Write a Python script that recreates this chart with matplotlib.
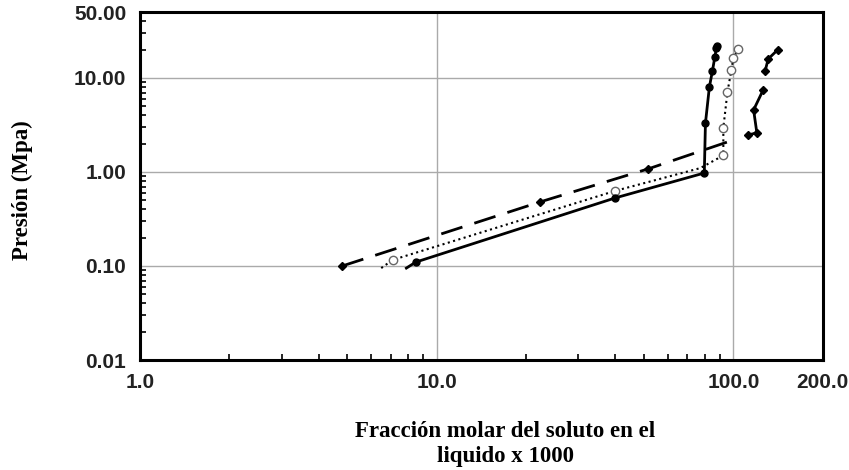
import matplotlib
matplotlib.use("Agg")
import matplotlib.pyplot as plt
import matplotlib.ticker as mticker

# serie discontinua (puntos negros)
x_dash = [4.8, 22.3, 51.7, 100.0]
y_dash = [0.10, 0.48, 1.08, 2.19]

# serie punteada (circulos abiertos)
x_dot = [6.5, 7.1, 40.0, 77.4, 92.5, 92.5, 95.5, 98.5, 100.0, 104.0]
y_dot = [0.095, 0.116, 0.63, 1.10, 1.5, 2.94, 7.1, 12.2, 16.3, 20.4]

# serie continua (puntos negros)
x_sol = [7.9, 8.5, 40.0, 79.8, 80.5, 83.0, 85.0, 86.6, 87.6, 88.0]
y_sol = [0.095, 0.11, 0.53, 0.975, 3.3, 8.0, 11.9, 16.7, 20.8, 21.9]

# cuarta serie (dos tramos)
x_s4a = [112, 120, 117, 126]
y_s4a = [2.48, 2.6, 4.57, 7.45]
x_s4b = [128, 131, 141]
y_s4b = [11.9, 15.9, 19.9]

yticks = [0.01, 0.1, 1, 10, 50]
ytick_lab = ["0.01", "0.10", "1.00", "10.00", "50.00"]
xticks = [1, 10, 100, 200]
xtick_lab = ["1.0", "10.0", "100.0", "200.0"]

fig = plt.figure(figsize=(8.49, 4.70), dpi=100)
ax = fig.add_axes([0.165, 0.234, 0.804, 0.740])

ax.plot(x_dash, y_dash, color="black", lw=2, dashes=(8, 4.5),
        marker="D", ms=4, markevery=[0, 1, 2])
ax.plot(x_dot, y_dot, color="black", lw=1.5, ls=":", marker="o", ms=6,
        mfc="white", mec="#666666", markevery=[1, 2, 4, 5, 6, 7, 8, 9])
ax.plot(x_sol, y_sol, color="black", lw=2, marker="o", ms=5,
        markevery=[1, 2, 3, 4, 5, 6, 7, 8, 9])
ax.plot(x_s4a, y_s4a, color="black", lw=2, marker="D", ms=4.5)
ax.plot(x_s4b, y_s4b, color="black", lw=2, marker="D", ms=4.5)

ax.set_xscale("log")
ax.set_yscale("log")
ax.set_xlim(1, 200)
ax.set_ylim(0.01, 50)

ax.set_xticks(xticks)
ax.set_xticklabels(xtick_lab)
ax.set_yticks(yticks)
ax.set_yticklabels(ytick_lab)
ax.xaxis.set_minor_locator(mticker.LogLocator(base=10, subs=range(2, 10)))
ax.yaxis.set_minor_locator(mticker.LogLocator(base=10, subs=range(2, 10)))
ax.xaxis.set_minor_formatter(mticker.NullFormatter())
ax.yaxis.set_minor_formatter(mticker.NullFormatter())

ax.tick_params(which="both", direction="in", top=False, right=False)
ax.tick_params(which="major", length=0)
ax.tick_params(axis="y", which="major", pad=10)
ax.tick_params(axis="x", which="major", pad=9)
ax.tick_params(which="minor", length=4.5, width=1.2)
for lab in ax.get_xticklabels() + ax.get_yticklabels():
    lab.set_fontfamily("Liberation Sans")
    lab.set_fontweight("bold")
    lab.set_fontsize(15)
    lab.set_color("#222222")

ax.grid(True, which="major", color="#aaaaaa", lw=1)
for s in ax.spines.values():
    s.set_linewidth(2.2)

fig.text(0.026, 0.595, "Presión (Mpa)", rotation=90, ha="center", va="center",
         family="Liberation Serif", fontweight="bold", fontsize=16.5)
fig.text(0.595, 0.055, "Fracción molar del soluto en el\nliquido x 1000",
         ha="center", va="center", family="Liberation Serif",
         fontweight="bold", fontsize=16.5, linespacing=1.25)

fig.savefig("out.png", dpi=100)
